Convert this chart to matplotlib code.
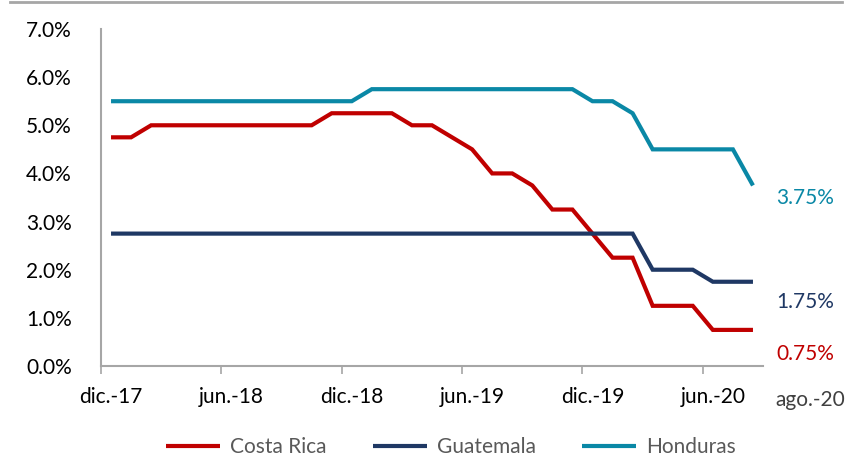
import matplotlib
matplotlib.use("Agg")
import matplotlib.pyplot as plt
from matplotlib.lines import Line2D

plt.rcParams['font.family'] = ['Lato', 'DejaVu Sans']

months = ["dic.-17", "ene.-18", "feb.-18", "mar.-18", "abr.-18", "may.-18", "jun.-18",
          "jul.-18", "ago.-18", "sep.-18", "oct.-18", "nov.-18", "dic.-18",
          "ene.-19", "feb.-19", "mar.-19", "abr.-19", "may.-19", "jun.-19",
          "jul.-19", "ago.-19", "sep.-19", "oct.-19", "nov.-19", "dic.-19",
          "ene.-20", "feb.-20", "mar.-20", "abr.-20", "may.-20", "jun.-20",
          "jul.-20", "ago.-20"]

costa_rica = [4.75, 4.75, 5.0, 5.0, 5.0, 5.0, 5.0, 5.0, 5.0, 5.0, 5.0, 5.25,
              5.25, 5.25, 5.25, 5.0, 5.0, 4.75, 4.5, 4.0, 4.0, 3.75, 3.25, 3.25,
              2.75, 2.25, 2.25, 1.25, 1.25, 1.25, 0.75, 0.75, 0.75]
guatemala = [2.75] * 27 + [2.0, 2.0, 2.0, 1.75, 1.75, 1.75]
honduras = [5.5] * 13 + [5.75] * 11 + [5.5, 5.5, 5.25, 4.5, 4.5, 4.5, 4.5, 4.5, 3.75]

series = [("Costa Rica", costa_rica, "#C00000"),
          ("Guatemala", guatemala, "#1F3864"),
          ("Honduras", honduras, "#0A88A6")]

yticks = [0, 1, 2, 3, 4, 5, 6, 7]
label_every = 6
FS = 15

fig = plt.figure(figsize=(8.5, 4.58), dpi=100)
ax = fig.add_axes([101/850, 1-366/458, (763-101)/850, (366-29)/458])

x = list(range(len(months)))
handles = []
for name, vals, col in series:
    h, = ax.plot(x, vals, color=col, lw=3, solid_capstyle='butt', solid_joinstyle='miter', label=name)
    handles.append(h)

ax.set_xlim(-0.5, len(months) - 0.5)
ax.set_ylim(0, 7)
ax.set_yticks(yticks)
ax.set_yticklabels([f"{v:.1f}%" for v in yticks], fontsize=FS, color="#000000")
ax.tick_params(axis='y', length=0, pad=21)

# major ticks at category boundaries, labels at category centres
major = [i - 0.5 for i in range(0, len(months) - 1, label_every)]
ax.set_xticks(major)
ax.set_xticklabels([])
ax.tick_params(axis='x', which='major', length=6, width=1.2, color="#A6A6A6", direction='out')
minor = list(range(0, len(months) - 1, label_every))
ax.set_xticks(minor, minor=True)
ax.set_xticklabels([months[i] for i in minor], minor=True, fontsize=FS)
ax.tick_params(axis='x', which='minor', length=0, pad=15)

for s in ['top', 'right']:
    ax.spines[s].set_visible(False)
for s in ['left', 'bottom']:
    ax.spines[s].set_color("#A6A6A6")
    ax.spines[s].set_linewidth(1.5)

# last-month label
fig.text(810/850, 1-400/458, months[-1], ha='center', va='center', fontsize=FS, color="#404040")

# end-value labels
label_y = {"Costa Rica": 354, "Guatemala": 302, "Honduras": 198}
for name, vals, col in series:
    fig.text(805/850, 1-label_y[name]/458, f"{vals[-1]:.2f}%", color=col, fontsize=FS,
             ha='center', va='center')

leg = fig.legend(handles=handles, loc='center', bbox_to_anchor=(451/850, 1-447/458), ncol=3,
                 frameon=False, fontsize=FS, handlelength=2.6, columnspacing=2.2,
                 handletextpad=0.5)
for t in leg.get_texts():
    t.set_color("#595959")

fig.add_artist(Line2D([10/850, 842/850], [1-2/458, 1-2/458], color="#A6A6A6", lw=2,
                      transform=fig.transFigure))

fig.savefig("out.png", dpi=100)
